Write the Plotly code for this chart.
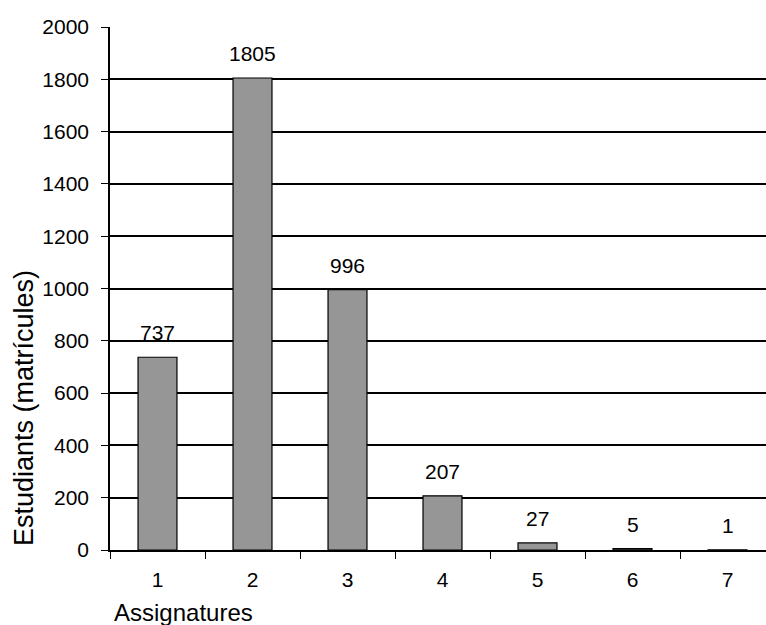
import plotly.graph_objects as go

# Number of subjects enrolled per student
assignatures = ["1", "2", "3", "4", "5", "6", "7"]
estudiants = [737, 1805, 996, 207, 27, 5, 1]
y_ticks = [0, 200, 400, 600, 800, 1000, 1200, 1400, 1600, 1800, 2000]

FONT = "Liberation Sans, Arial, sans-serif"
W, H = 766, 625
M_L, M_R, M_T, M_B = 110, 0, 27, 75
plot_w = W - M_L - M_R
plot_h = H - M_T - M_B
cat_px = 95  # width of one category slot in pixels

fig = go.Figure()
fig.add_trace(go.Bar(
    x=assignatures,
    y=estudiants,
    width=0.41,
    marker=dict(color="#969696", line=dict(color="black", width=1.2)),
    hoverinfo="x+y",
))

# value labels above each bar (category axis positions are 0-based indices)
for i, v in enumerate(estudiants):
    fig.add_annotation(
        x=i, y=v, xref="x", yref="y",
        text=str(v), showarrow=False,
        yanchor="bottom", yshift=11,
        font=dict(family=FONT, size=21, color="black"),
    )

# axis titles
fig.add_annotation(
    x=(24 - M_L) / plot_w, y=(M_T + plot_h - 408) / plot_h,
    xref="paper", yref="paper",
    text="Estudiants (matrícules)", textangle=-90, showarrow=False,
    xanchor="center", yanchor="middle",
    font=dict(family=FONT, size=27, color="black"),
)
fig.add_annotation(
    x=(112 - M_L) / plot_w, y=(M_T + plot_h - 612) / plot_h,
    xref="paper", yref="paper",
    text="Assignatures", showarrow=False,
    xanchor="left", yanchor="middle",
    font=dict(family=FONT, size=24, color="black"),
)

fig.update_layout(
    width=W, height=H,
    margin=dict(l=M_L, r=M_R, t=M_T, b=M_B),
    paper_bgcolor="white", plot_bgcolor="white",
    showlegend=False,
    font=dict(family=FONT, color="black"),
)
fig.update_xaxes(
    type="category",
    range=[-0.5, -0.5 + plot_w / cat_px],
    tickson="boundaries",
    ticks="outside", ticklen=7, tickwidth=1.2, tickcolor="black",
    showline=True, linecolor="black", linewidth=1.5,
    showgrid=False,
    tickfont=dict(family=FONT, size=21, color="black"),
    ticklabelstandoff=10,
)
fig.update_yaxes(
    range=[0, 2000],
    tickvals=y_ticks,
    ticks="outside", ticklen=7, tickwidth=1.2, tickcolor="black",
    showline=True, linecolor="black", linewidth=1.5,
    showgrid=True, gridcolor="black", gridwidth=1.5,
    zeroline=False,
    tickfont=dict(family=FONT, size=21, color="black"),
    ticklabelstandoff=8,
)

fig.write_html("out.html")
